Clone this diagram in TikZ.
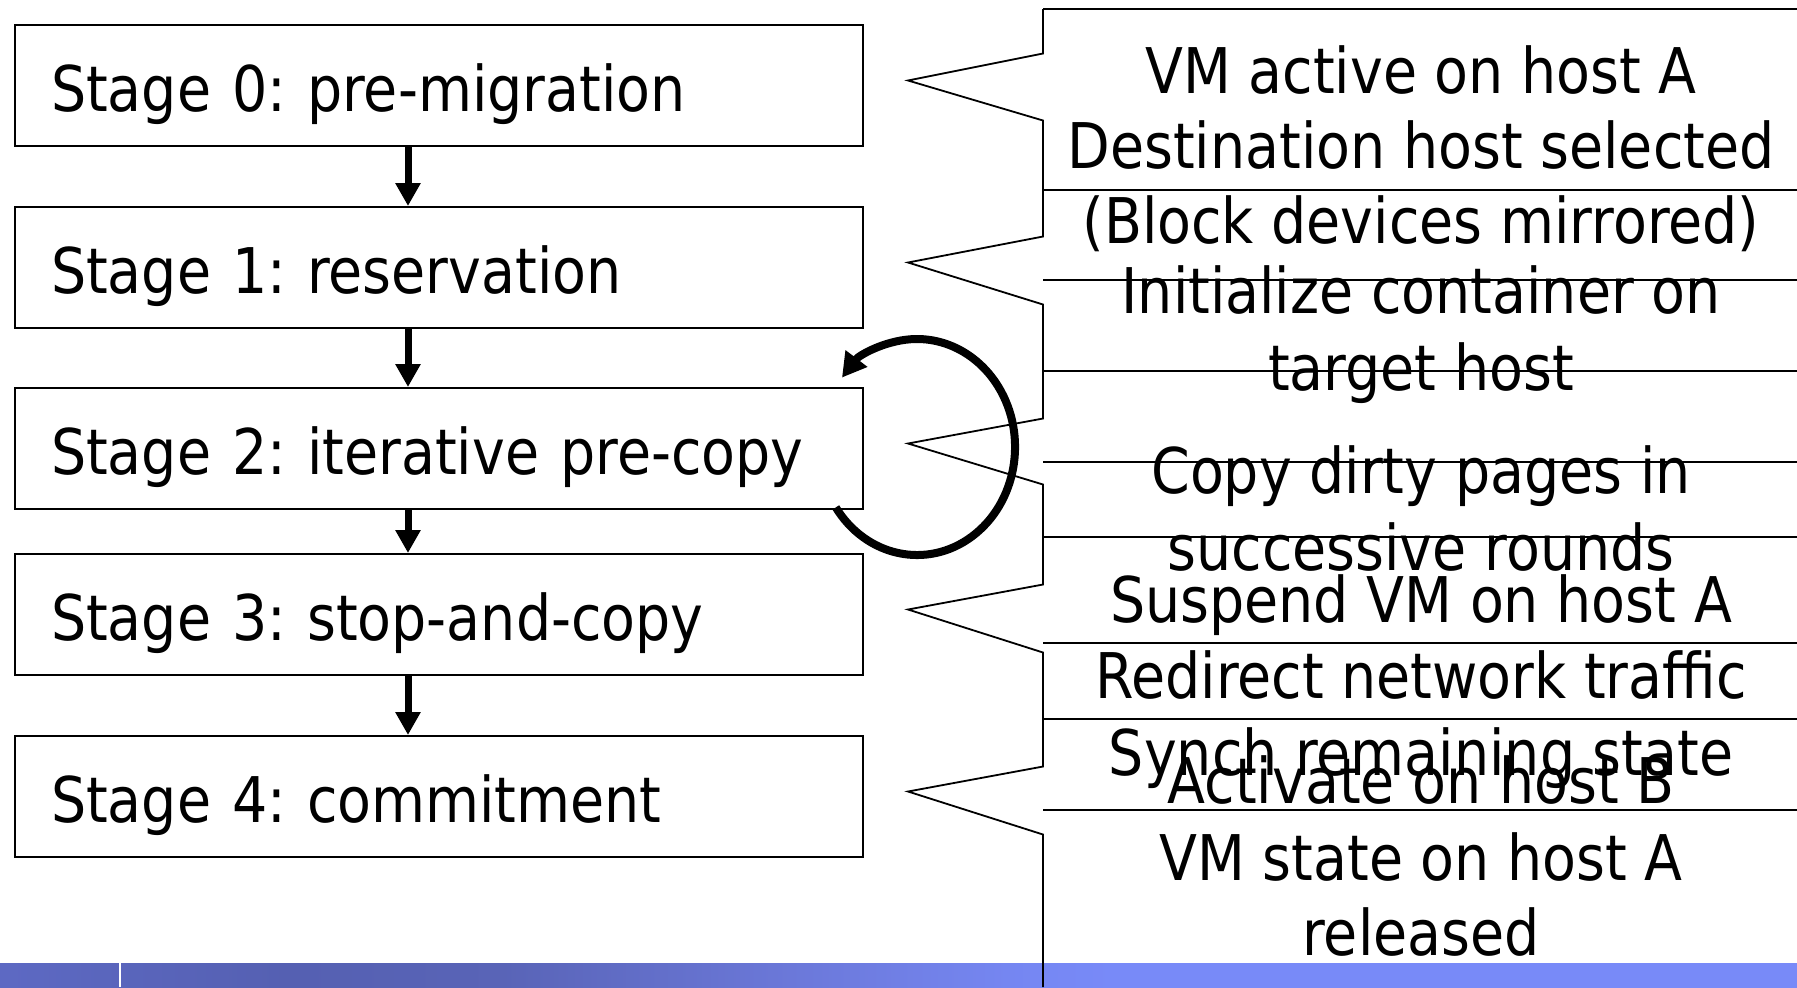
\documentclass[tikz,border=0pt]{standalone}
\usepackage{fontspec}
\setmainfont{DejaVu Sans}[FakeStretch=0.88]
\usetikzlibrary{arrows.meta,calc}
\frenchspacing

% footer band: blue with a darker swoosh on the left half
\pgfdeclarehorizontalshading{footerband}{100bp}{%
  rgb(0bp)=(0.376,0.420,0.784);
  rgb(25bp)=(0.365,0.412,0.765);
  rgb(33bp)=(0.333,0.376,0.698);
  rgb(39bp)=(0.349,0.392,0.718);
  rgb(47bp)=(0.420,0.471,0.851);
  rgb(53bp)=(0.459,0.525,0.945);
  rgb(56bp)=(0.471,0.541,0.973);
  rgb(100bp)=(0.471,0.541,0.973)}

\tikzset{
  basefont/.style={font=\fontsize{31.5pt}{38pt}\selectfont},
  stagebox/.style={basefont, draw=black, line width=1pt, anchor=north west,
    minimum width=424pt, minimum height=60.5pt, inner xsep=18pt, inner ysep=0pt,
    text width=388pt, align=left, text height=26pt, text depth=0pt},
  flowarrow/.style={line width=3.5pt, -{Triangle[length=11.5pt,width=12pt]}},
  looparrow/.style={line width=4pt, -{Triangle[length=12pt,width=13pt]}},
  callout/.style={draw=black, line width=0.9pt},
  cline/.style={basefont, anchor=base, inner sep=0pt}
}

\begin{document}
\begin{tikzpicture}[x=0.5pt, y=-0.5pt]
  \useasboundingbox (0,0) rectangle (1797,987);

  % footer band
  \shade[shading=footerband] (0,963) rectangle (1797,987);
  \draw[white, line width=1pt] (120,963) -- (120,987);

  % stage boxes
  \node[stagebox] (s0) at (14,24)  {Stage 0: pre-migration};
  \node[stagebox] (s1) at (14,206) {Stage 1: reservation};
  \node[stagebox] (s2) at (14,387) {Stage 2: iterative pre-copy};
  \node[stagebox] (s3) at (14,553) {Stage 3: stop-and-copy};
  \node[stagebox] (s4) at (14,735) {Stage 4: commitment};

  % arrows between stages
  \coordinate (ax) at (408,0);
  \draw[flowarrow] (s0.south -| ax) -- (s1.north -| ax);
  \draw[flowarrow] (s1.south -| ax) -- (s2.north -| ax);
  \draw[flowarrow] (s2.south -| ax) -- (s3.north -| ax);
  \draw[flowarrow] (s3.south -| ax) -- (s4.north -| ax);

  % iteration loop on stage 2
  \coordinate (loopstart) at (835.8,507.4);
  \draw[looparrow] (loopstart) arc[start angle=214, end angle=500, x radius=49pt, y radius=54pt];

  % callout frames on the right
  \coordinate (cx) at (1043,0);
  \foreach \i in {0,...,4}
    \coordinate (tip\i) at ($(s\i.east)+(44,-5)$);
  \draw[callout]
    (1043,9) -- ($(tip0-|cx)+(0,-27)$) -- (tip0) -- ($(tip0-|cx)+(0,40)$)
    -- ($(tip1-|cx)+(0,-26)$) -- (tip1) -- ($(tip1-|cx)+(0,42)$)
    -- ($(tip2-|cx)+(0,-25)$) -- (tip2) -- ($(tip2-|cx)+(0,41)$)
    -- ($(tip3-|cx)+(0,-25)$) -- (tip3) -- ($(tip3-|cx)+(0,43)$)
    -- ($(tip4-|cx)+(0,-25)$) -- (tip4) -- ($(tip4-|cx)+(0,43)$)
    -- (1043,987);
  \foreach \y in {9,190,280,371,462,537,643,719,810}
    \draw[callout] (1043,\y) -- (1797,\y);

  % callout texts
  \foreach \y/\t [count=\i] in {
      93/VM active on host A,
      168/Destination host selected,
      243/(Block devices mirrored),
      313/Initialize container on,
      390/target host,
      493/Copy dirty pages in,
      570/successive rounds,
      622/Suspend VM on host A,
      698/Redirect network traffic,
      775/Synch remaining state,
      803/Activate on host B,
      880/VM state on host A,
      955/released}
    \node[cline] (c\i) at (1421,\y) {\t};
\end{tikzpicture}
\end{document}
